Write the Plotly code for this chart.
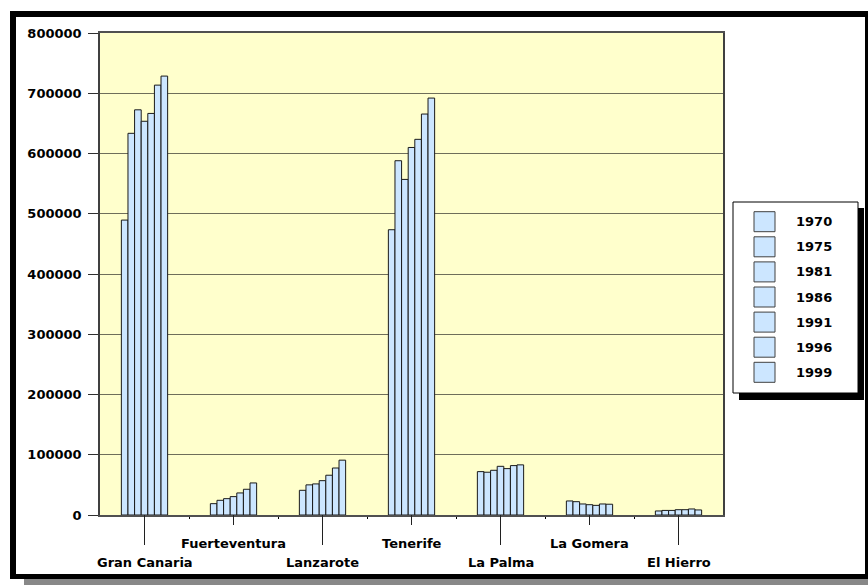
import plotly.graph_objects as go

# Population of the Canary Islands by island and census year
islands = ["Gran Canaria", "Fuerteventura", "Lanzarote", "Tenerife",
           "La Palma", "La Gomera", "El Hierro"]
years = ["1970", "1975", "1981", "1986", "1991", "1996", "1999"]

pop_1970 = [489500, 18800, 41000, 473500, 72000, 23300, 6700]
pop_1975 = [633500, 24400, 50000, 588000, 71000, 22100, 7600]
pop_1981 = [672500, 27100, 51600, 557000, 74200, 18300, 7600]
pop_1986 = [653500, 30500, 57000, 610000, 80800, 17100, 8800]
pop_1991 = [666500, 36600, 66000, 623500, 77000, 16000, 8800]
pop_1996 = [713500, 42700, 78000, 665500, 82000, 18300, 10000]
pop_1999 = [728500, 53200, 91000, 692000, 83200, 17900, 8400]

series = [pop_1970, pop_1975, pop_1981, pop_1986, pop_1991, pop_1996, pop_1999]
y_ticks = [0, 100000, 200000, 300000, 400000, 500000, 600000, 700000, 800000]

W, H = 868, 585
L, R, T, B = 100, 723, 33, 515  # plot area in pixels

FONT = "DejaVu Sans"
BAR_FILL = "#cce6ff"


def px_x(p):
    return (p - L) / (R - L)


def px_y(p):
    return (B - p) / (B - T)


fig = go.Figure()
idx = list(range(len(islands)))
for yr, vals in zip(years, series):
    fig.add_trace(go.Bar(
        x=idx, y=vals, name=yr, showlegend=False,
        marker=dict(color=BAR_FILL, line=dict(color="#1a1a1a", width=1)),
    ))

shapes = []
annotations = []

# category tick lines and staggered labels
for i, name in enumerate(islands):
    low = (i % 2 == 0)
    tick_end = 545 if low else 525
    shapes.append(dict(type="line", xref="x", yref="paper", x0=i, x1=i,
                       y0=0, y1=px_y(tick_end), line=dict(color="#202020", width=1)))
    annotations.append(dict(xref="x", yref="paper", x=i, y=px_y(562 if low else 543),
                            text=name, showarrow=False, xanchor="center", yanchor="middle",
                            font=dict(family=FONT, size=13, color="black", weight="bold")))

# legend box with shadow
lx0, lx1, ly0, ly1 = 733, 858, 202, 393
shapes.append(dict(type="rect", xref="paper", yref="paper", layer="above",
                   x0=px_x(lx0 + 6), x1=px_x(lx1 + 6), y0=px_y(ly1 + 7), y1=px_y(ly0 + 6),
                   fillcolor="black", line=dict(width=0)))
shapes.append(dict(type="rect", xref="paper", yref="paper", layer="above",
                   x0=px_x(lx0), x1=px_x(lx1), y0=px_y(ly1), y1=px_y(ly0),
                   fillcolor="white", line=dict(color="black", width=1)))
for k, yr in enumerate(years):
    cy = 221.7 + 25.1 * k
    shapes.append(dict(type="rect", xref="paper", yref="paper", layer="above",
                       x0=px_x(754), x1=px_x(775), y0=px_y(cy + 10), y1=px_y(cy - 10),
                       fillcolor=BAR_FILL, line=dict(color="#404040", width=1)))
    annotations.append(dict(xref="paper", yref="paper", x=px_x(794), y=px_y(cy),
                            text=yr, showarrow=False, xanchor="left", yanchor="middle",
                            font=dict(family=FONT, size=13, color="black", weight="bold")))

# outer frame and drop shadow
frame = [
    (24, 868, 579, 585, "#888888"),
    (10, 16, 11, 579, "black"),
    (10, 866, 11, 17, "black"),
    (865, 868, 11, 579, "black"),
    (10, 868, 574, 579, "black"),
]
for x0, x1, y0, y1, c in frame:
    shapes.append(dict(type="rect", xref="paper", yref="paper", layer="above",
                       x0=px_x(x0), x1=px_x(x1), y0=px_y(y1), y1=px_y(y0),
                       fillcolor=c, line=dict(width=0)))

fig.update_layout(
    width=W, height=H,
    margin=dict(l=L, r=W - R, t=T, b=H - B, pad=0),
    paper_bgcolor="white",
    plot_bgcolor="#ffffcc",
    barmode="group", bargap=0.48, bargroupgap=0,
    shapes=shapes, annotations=annotations,
    font=dict(family=FONT, size=13, color="black"),
    xaxis=dict(range=[-0.5, 6.5], showgrid=False, zeroline=False,
               tickvals=[0.5, 1.5, 2.5, 3.5, 4.5, 5.5], ticks="outside", ticklen=2,
               tickcolor="black", showticklabels=False,
               showline=True, linecolor="#505050", linewidth=1.5, mirror=True),
    yaxis=dict(range=[0, 800000], tickvals=y_ticks, ticktext=[str(v) for v in y_ticks],
               ticks="outside", ticklen=10, tickcolor="#303030", ticklabelstandoff=4,
               tickfont=dict(family=FONT, size=13, color="black", weight="bold"),
               showgrid=True, gridcolor="#6e6e5a", gridwidth=1.2, zeroline=False,
               showline=True, linecolor="#404040", linewidth=1.5, mirror=True),
)

fig.write_html("out.html")
